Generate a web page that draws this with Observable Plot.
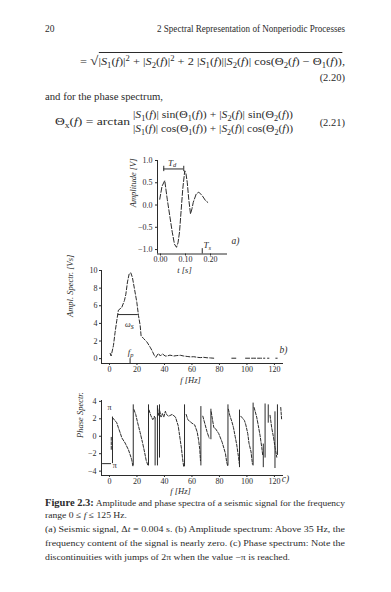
<!DOCTYPE html>
<html><head><meta charset="utf-8">
<script src="https://cdn.jsdelivr.net/npm/d3@7"></script>
<script src="https://cdn.jsdelivr.net/npm/@observablehq/plot@0.6"></script>
<style>
html,body{margin:0;padding:0;background:#fff;}
body{width:391px;height:592px;position:relative;overflow:hidden;font-family:"Liberation Serif","DejaVu Serif",serif;color:#2b2b2b;}
.t{position:absolute;white-space:nowrap;line-height:1;}
.t sub,.t sup{line-height:0;font-size:70%;}
.ol{border-top:0.8px solid #2b2b2b;padding-top:3px;}
</style></head><body>
<div class="t" style="left:45px;top:25px;font-size:9.5px">20</div>
<div class="t" data-w="188" style="left:157px;top:25px;font-size:9.5px">2 Spectral Representation of Nonperiodic Processes</div>
<div class="t" data-w="265" style="left:80px;top:54px;font-size:10.5px">= <span style="font-size:13px">√</span><span class="ol">|<i>S</i><sub>1</sub>(<i>f</i>)|<sup>2</sup> + |<i>S</i><sub>2</sub>(<i>f</i>)|<sup>2</sup> + 2 |<i>S</i><sub>1</sub>(<i>f</i>)||<i>S</i><sub>2</sub>(<i>f</i>)| cos(Θ<sub>2</sub>(<i>f</i>) − Θ<sub>1</sub>(<i>f</i>))</span>,</div>
<div class="t" style="right:46px;top:73px;font-size:10.5px">(2.20)</div>
<div class="t" data-w="118" style="left:45px;top:92px;font-size:10.5px">and for the phase spectrum,</div>
<div class="t" data-w="75" style="left:55px;top:117px;font-size:10.5px">Θ<sub>x</sub>(<i>f</i>) = arctan</div>
<div class="t" data-w="160" style="left:133px;top:110px;font-size:10.5px">|<i>S</i><sub>1</sub>(<i>f</i>)| sin(Θ<sub>1</sub>(<i>f</i>)) + |<i>S</i><sub>2</sub>(<i>f</i>)| sin(Θ<sub>2</sub>(<i>f</i>))</div>
<div class="t" data-w="160" style="left:133px;top:124px;font-size:10.5px">|<i>S</i><sub>1</sub>(<i>f</i>)| cos(Θ<sub>1</sub>(<i>f</i>)) + |<i>S</i><sub>2</sub>(<i>f</i>)| cos(Θ<sub>2</sub>(<i>f</i>))</div>
<div class="t" style="right:46px;top:118px;font-size:10.5px">(2.21)</div>

<div class="t" data-w="300" style="left:45px;top:498px;font-size:9px"><b style="font-size:10px">Figure 2.3:</b> Amplitude and phase spectra of a seismic signal for the frequency</div>
<div class="t" data-w="82" style="left:45px;top:511px;font-size:9px">range 0 ≤ <i>f</i> ≤ 125 Hz.</div>
<div class="t" data-w="300" style="left:45px;top:525px;font-size:9px">(a) Seismic signal, Δ<i>t</i> = 0.004 s. (b) Amplitude spectrum: Above 35 Hz, the</div>
<div class="t" data-w="300" style="left:45px;top:539px;font-size:9px">frequency content of the signal is nearly zero. (c) Phase spectrum: Note the</div>
<div class="t" data-w="245" style="left:45px;top:553px;font-size:9px">discontinuities with jumps of 2π when the value −π is reached.</div>

<script>
// ---- (a) seismic signal ----
const aT = [-0.003, 0.006, 0.017, 0.027, 0.037, 0.047, 0.056, 0.064, 0.070, 0.076, 0.083, 0.089, 0.097, 0.102, 0.107, 0.113, 0.120, 0.126, 0.131, 0.143, 0.153, 0.167, 0.180, 0.189];
const aV = [0.13, 0.42, 0.55, 0.13, -0.24, -0.61, -0.88, -0.95, -0.85, -0.61, -0.09, 0.36, 0.77, 0.70, 0.51, 0.13, -0.20, -0.08, 0.06, 0.25, 0.29, 0.21, 0.10, 0.06];
const aXTicks = [0, 0.1, 0.2];
const aYTicks = [-1, -0.5, 0, 0.5, 1];
const aXDomain = [-0.012, 0.268];
const aYDomain = [-1.1, 1.0];
const tdRange = [0.013, 0.093], tdLevel = 0.81, tdLabel = [0.05, 0.95];
const tsTick = 0.167, tsLabel = [0.192, -0.9];
const aPanel = [0.30, -0.81];

// ---- (b) amplitude spectrum ----
const ampF = [0.5, 1.2, 2.9, 4.1, 5.3, 6.5, 8.9, 10.9, 11.9, 13.1, 14.3, 15.5, 16.7, 18.2, 19.9, 21.1, 22.3, 23.0, 24.7, 27.2, 29.6, 31.0, 32.5, 33.7, 35.6, 37.0, 38.5, 40.5, 42.0, 44.0, 46.8, 49.0, 51.6, 54.0, 56.5, 59.0, 61.3, 64.0, 66.0, 68.5, 71.0, 73.5, 76.0, 82, 89, 92, 95, 99, 105, 110, 113, 114, 115, 116, 118, 121, 122];
const ampV = [0.6, 0.3, 1.5, 3.0, 4.3, 5.5, 5.8, 6.6, 7.3, 8.7, 9.6, 9.75, 9.2, 7.9, 6.4, 4.9, 3.8, 2.6, 2.3, 1.9, 1.3, 0.9, 0.4, 0.15, 0.6, 0.3, 0.55, 0.3, 0.3, 0.4, 0.3, 0.35, 0.38, 0.3, 0.25, 0.2, 0.22, 0.15, 0.12, 0.15, 0.1, 0.08, 0.05, null, 0.05, 0.05, null, 0.05, 0.05, 0.05, 0.05, null, 0.05, 0.05, null, 0.05, 0.05];
const bXTicks = [0, 20, 40, 60, 80, 100, 120];
const bYTicks = [0, 2, 4, 6, 8, 10];
const fDomain = [-5.8, 126.6];
const bYDomain = [-0.55, 10];
const bandRange = [6.5, 21], bandLevel = 5, bandLabel = [15.5, 3.9];
const fpTick = 15, fpLabel = [15.2, 0.75];
const bPanel = [126.5, 0.94];

// ---- (c) phase spectrum ----
const phaseSegs = [
  [[1.3,-1.5],[1.3,0]],
  [[2.4,2.1],[5.3,1.55],[6.5,0.97],[7.8,0.39],[9,-0.19],[11.4,-0.78],[13.8,-1.55],[15,-2.1],[16.2,-2.7],[17,-3.4]],
  [[17.8,3.06],[19.1,2.5],[20.5,1.55],[22.3,0.43],[24,-0.7],[25.5,-1.8],[26.7,-2.76],[27.9,-3.3]],
  [[28.8,3.0],[30,2.4],[31.5,1.9],[32.7,2.3],[33.1,2.1]],
  [[35.0,3.2],[35.8,2.4]],
  [[36.6,2.9],[37.5,2.2],[38.5,2.6],[39.5,2.2],[40.7,2.87],[41.5,2.5],[43,2.3],[45.6,2.5],[48,2.2],[50,1.2],[51,0.1],[52.4,-1.45],[53.2,-2.6],[54,-3.5]],
  [[55.8,2.5],[57,1.9],[60,1.5],[62,1.3],[63.8,0.5],[64.8,-0.4],[65.7,-1.5],[66.2,-2.8]],
  [[67.9,2.3],[69.3,1.5],[71,0.5],[72.5,-0.2]],
  [[74,2.8],[75.9,1.0],[77,0.9],[79.5,0.3],[82,-0.7],[84.4,-2.0],[85.2,-2.9],[86,-3.4]],
  [[86.5,3.1],[87.5,2.4],[89,1.7],[90.2,1.0],[91.4,0.0],[92.6,-1.0],[93.8,-2.3],[94.5,-3.2]],
  [[95.5,2.3],[96.7,2.1],[98.2,1.8],[99.2,1.3],[100.6,0.3],[101.5,-0.8],[103,-1.8],[104,-3.2]],
  [[105.2,3.3],[107.1,2.2],[108.3,1.2],[109.6,0.04],[110.8,-1.3],[111.5,-2.2]],
  [[116.8,2.4],[118,1.0],[119.3,-0.1],[120.5,-1.3],[121.7,-2.4]],
  [[124.6,3.3],[125.2,2.0]]
];
const jumpF    = [2.2, 17.3, 28.4, 33.2, 34.9, 36.4, 54.6, 66.5, 73.8, 86.2, 94.6, 104.5, 111.9, 113.2, 115.5, 120.4, 122.2];
const jumpFrom = [-3.14, -3.4, -3.4, 2.1, -3.4, 3.6, -3.5, -3.4, -0.4, -3.4, -3.6, -3.4, -0.9, 3.7, 3.6, 2.8, 3.6];
const jumpTo   = [2.2, 3.6, 3.6, -3.4, 3.5, -2.5, 3.6, 3.4, 3.1, 3.6, 3.0, 3.8, -3.6, -2.5, 1.5, -3.7, -2.2];
const cYTicks = [-4, -2, 0, 2, 4];
const cYDomain = [-4.5, 4.1];
const piMarkF = [-5, 1.5], piMarkV = -3.14;
const piLabels = [{f: 0.0, v: 3.25}, {f: 3.9, v: -3.3}];
const cPanel = [128, -4.9];

const ink = "#2b2b2b";
const baseStyle = {background: "transparent", overflow: "visible", fontFamily: "Liberation Serif, DejaVu Serif, serif", fontSize: "8px", color: ink};
const labelFont = {fontFamily: "Liberation Serif, DejaVu Serif, serif", fill: ink};

function mount(el, left, top, w) {
  const d = document.createElement("div");
  d.style.cssText = `position:absolute;left:${left}px;top:${top}px;width:${w}px;`;
  d.append(el); document.body.append(d);
}
function sub(x, y, main, s, opts = {}) {
  return [
    Plot.text([{x, y}], {x: "x", y: "y", text: () => main, fontSize: 9, fontStyle: "italic", textAnchor: "end", ...labelFont, ...opts}),
    Plot.text([{x, y}], {x: "x", y: "y", text: () => s, fontSize: 6.5, fontStyle: "italic", textAnchor: "start", dy: 2.5, ...labelFont, ...opts})
  ];
}

// Plot a
const aData = aT.map((t, i) => ({t, v: aV[i]}));
const plotA = Plot.plot({
  width: 150, height: 125, marginLeft: 57, marginRight: 23, marginTop: 10, marginBottom: 21.5,
  style: baseStyle,
  x: {domain: aXDomain, ticks: aXTicks, tickFormat: d3.format(".2f"), tickSize: 2, tickPadding: 0, label: null},
  y: {domain: aYDomain, ticks: aYTicks, tickFormat: d3.format(".1f"), tickSize: 2, tickPadding: 3, label: null},
  marks: [
    Plot.ruleX([aXDomain[0]], {stroke: ink}),
    Plot.ruleY([aYDomain[0]], {stroke: ink}),
    Plot.line(aData, {x: "t", y: "v", stroke: ink, strokeWidth: 1, strokeDasharray: "5,2"}),
    Plot.ruleY([tdLevel], {x1: tdRange[0], x2: tdRange[1], stroke: ink}),
    Plot.ruleX(tdRange, {y1: tdLevel - 0.06, y2: tdLevel + 0.06, stroke: ink}),
    ...sub(tdLabel[0], tdLabel[1], "T", "d"),
    Plot.ruleX([tsTick], {y1: aYDomain[0], y2: aYDomain[0] + 0.12, stroke: ink}),
    ...sub(tsLabel[0], tsLabel[1], "T", "s"),
    Plot.text([aPanel], {x: d => d[0], y: d => d[1], text: () => "a)", fontSize: 9.5, fontStyle: "italic", ...labelFont}),
    Plot.text(["Amplitude [V]"], {text: d => d, frameAnchor: "left", dx: -24, rotate: -90, fontSize: 8.5, fontStyle: "italic", ...labelFont}),
    Plot.text(["t [s]"], {text: d => d, frameAnchor: "bottom", dx: -8, dy: 19, fontSize: 8.5, fontStyle: "italic", ...labelFont})
  ]
});
mount(plotA, 100, 150, 150);

// Plot b
const bData = ampF.map((f, i) => ({f, v: ampV[i]}));
const plotB = Plot.plot({
  width: 260, height: 140, marginLeft: 61, marginRight: 17, marginTop: 15, marginBottom: 32,
  style: baseStyle,
  x: {domain: fDomain, ticks: bXTicks, tickSize: 2, tickPadding: 1, label: null},
  y: {domain: bYDomain, ticks: bYTicks, tickSize: 2, tickPadding: 2, label: null},
  marks: [
    Plot.ruleX([fDomain[0]], {stroke: ink}),
    Plot.ruleY([bYDomain[0]], {stroke: ink}),
    Plot.line(bData, {x: "f", y: "v", stroke: ink, strokeWidth: 1, strokeDasharray: "4,2"}),
    Plot.ruleY([bandLevel], {x1: bandRange[0], x2: bandRange[1], stroke: ink}),
    ...sub(bandLabel[0], bandLabel[1], "ω", "s", {fontSize: 8}),
    Plot.ruleX([fpTick], {y1: bYDomain[0], y2: 0, stroke: ink}),
    ...sub(fpLabel[0], fpLabel[1], "f", "p"),
    Plot.text([bPanel], {x: d => d[0], y: d => d[1], text: () => "b)", fontSize: 9.5, fontStyle: "italic", ...labelFont}),
    Plot.text(["Ampl. Spectr. [Vs]"], {text: d => d, frameAnchor: "left", dx: -31, rotate: -90, fontSize: 8.5, fontStyle: "italic", ...labelFont}),
    Plot.text(["f [Hz]"], {text: d => d, frameAnchor: "bottom", dx: -2, dy: 19, fontSize: 8.5, fontStyle: "italic", ...labelFont})
  ]
});
mount(plotB, 40, 255, 260);

// Plot c
const cData = phaseSegs.flatMap((seg, k) => seg.map(([f, v]) => ({f, v, seg: k})));
const jData = jumpF.map((f, i) => ({f, a: jumpFrom[i], b: jumpTo[i]}));
const plotC = Plot.plot({
  width: 260, height: 125, marginLeft: 61, marginRight: 17, marginTop: 15, marginBottom: 35,
  style: baseStyle,
  x: {domain: fDomain, ticks: bXTicks, tickSize: 2, tickPadding: 1, label: null},
  y: {domain: cYDomain, ticks: cYTicks, tickSize: 2, tickPadding: 3, label: null},
  marks: [
    Plot.ruleX([fDomain[0]], {stroke: ink}),
    Plot.ruleY([cYDomain[0]], {stroke: ink}),
    Plot.line(cData, {x: "f", y: "v", z: "seg", stroke: ink, strokeWidth: 1, strokeDasharray: "3,1.5"}),
    Plot.ruleX(jData, {x: "f", y1: "a", y2: "b", stroke: ink, strokeWidth: 1}),
    Plot.ruleY([piMarkV], {x1: piMarkF[0], x2: piMarkF[1], stroke: ink}),
    Plot.text(piLabels, {x: "f", y: "v", text: () => "π", fontSize: 8, ...labelFont}),
    Plot.text([cPanel], {x: d => d[0], y: d => d[1], text: () => "c)", fontSize: 9.5, fontStyle: "italic", ...labelFont}),
    Plot.text(["Phase Spectr."], {text: d => d, frameAnchor: "left", dx: -21, rotate: -90, fontSize: 8.5, fontStyle: "italic", ...labelFont}),
    Plot.text(["f [Hz]"], {text: d => d, frameAnchor: "bottom", dx: -12, dy: 18, fontSize: 8.5, fontStyle: "italic", ...labelFont})
  ]
});
mount(plotC, 40, 385, 260);

// fit text lines to the page widths
document.querySelectorAll("[data-w]").forEach(el => {
  const w = el.getBoundingClientRect().width;
  el.style.transformOrigin = "left center";
  el.style.transform = `scaleX(${(+el.dataset.w) / w})`;
});
</script>
</body></html>
